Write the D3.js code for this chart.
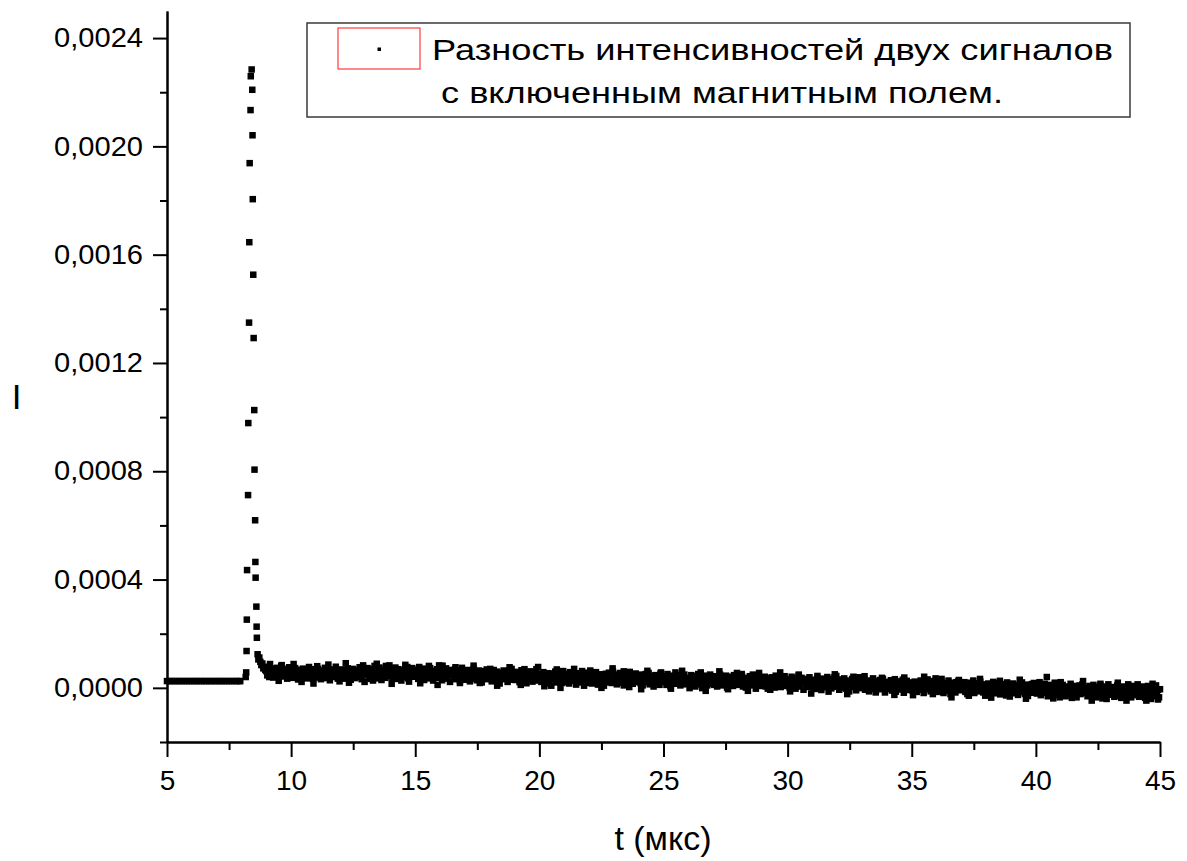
<!DOCTYPE html>
<html>
<head>
<meta charset="utf-8">
<script src="https://cdn.jsdelivr.net/npm/d3@7"></script>
<style>
  body { margin: 0; background: #fff; }
  svg text { font-family: "Liberation Sans", Arial, sans-serif; fill: #000; }
</style>
</head>
<body>
<svg id="chart" width="1187" height="861"></svg>
<script>
// ---- data (I in units of 1e-6) ----
const xMajorTicks = [5, 10, 15, 20, 25, 30, 35, 40, 45];
const xMinorTicks = [7.5, 12.5, 17.5, 22.5, 27.5, 32.5, 37.5, 42.5];
const yMajorTicks = [0, 0.0004, 0.0008, 0.0012, 0.0016, 0.002, 0.0024];
const yMinorTicks = [-0.0002, 0.0002, 0.0006, 0.001, 0.0014, 0.0018, 0.0022];

// flat level before the pulse
const baseT = [5.0, 5.1, 5.2, 5.3, 5.4, 5.5, 5.6, 5.7, 5.8, 5.9, 6.0, 6.1, 6.2, 6.3, 6.4, 6.5,
  6.6, 6.7, 6.8, 6.9, 7.0, 7.1, 7.2, 7.3, 7.4, 7.5, 7.6, 7.7, 7.8, 7.9, 7.95];
const baseI = [25, 25, 25, 25, 25, 25, 25, 25, 25, 25, 25, 25, 25, 25, 25, 25,
  25, 25, 25, 25, 25, 25, 25, 25, 25, 25, 25, 25, 25, 25, 25];

// the pulse
const pulseT = [8.17, 8.19, 8.205, 8.215, 8.225, 8.265, 8.275, 8.305, 8.315, 8.33, 8.365, 8.375,
  8.41, 8.435, 8.445, 8.455, 8.475, 8.49, 8.515, 8.525, 8.55, 8.56, 8.57, 8.60, 8.61, 8.62, 8.65, 8.68];
const pulseI = [40, 57, 136, 252, 435, 712, 978, 1349, 1646, 1938, 2134, 2259,
  2284, 2209, 2041, 1805, 1526, 1292, 1026, 806, 619, 465, 407, 300, 226, 185, 124, 105];

// noisy decay after the pulse, sampled every 0.04 us starting at 8.72 us
const tailT0 = 8.72;
const tailStep = 0.04;
const tailI = [
  112, 96, 84, 90, 72, 78, 66,
  62, 46, 68, 40, 60, 72, 52, 38, 66, 58, 48, 74, 54, 44, 64, 80, 50, 70, 42, 56, 68, 34, 62, 76, 48,
  47, 65, 37, 57, 73, 43, 53, 31, 61, 67, 49, 39, 71, 55, 45, 63, 35, 59, 77, 41, 51, 69, 33, 57, 63,
  54, 38, 70, 46, 60, 32, 64, 52, 42, 74, 36, 58, 50, 66, 28, 56, 68, 44, 62, 40, 78, 48, 34, 60, 52,
  42, 68, 50, 34, 62, 56, 38, 72, 46, 64, 30, 54, 70, 44, 36, 60, 52, 66, 40, 76, 48, 32, 58, 62, 22,
  65, 49, 73, 39, 59, 33, 69, 53, 45, 81, 41, 57, 35, 63, 75, 47, 29, 61, 67, 51, 37, 71, 43, 55, 83,
  47, 67, 37, 61, 51, 75, 33, 57, 69, 43, 53, 27, 65, 59, 39, 71, 49, 77, 35, 63, 45, 55, 73, 41, 61,
  67, 43, 55, 33, 77, 49, 39, 61, 71, 29, 57, 45, 65, 35, 51, 73, 41, 59, 27, 63, 53, 37, 69, 47, 83,
  38, 54, 28, 62, 48, 42, 72, 34, 58, 66, 22, 52, 46, 60, 32, 68, 40, 50, 36, 64, 26, 56, 74, 44, 54,
  56, 30, 48, 66, 38, 24, 60, 52, 34, 70, 42, 46, 28, 58, 64, 36, 50, 20, 54, 44, 62, 32, 68, 40, 56,
  40, 58, 24, 50, 66, 34, 44, 60, 28, 52, 16, 56, 38, 46, 64, 32, 54, 42, 22, 62, 48, 30, 70, 36, 44,
  49, 29, 59, 37, 43, 21, 53, 65, 33, 25, 47, 55, 17, 41, 51, 31, 61, 39, 23, 45, 57, 27, 69, 35, 51,
  30, 50, 22, 42, 58, 36, 16, 48, 38, 54, 26, 44, 8, 52, 40, 32, 60, 20, 46, 28, 56, 34, 50, 18, 62,
  42, 22, 52, 34, 46, 16, 58, 36, 26, 50, 30, 40, 12, 54, 44, 20, 48, 32, 62, 24, 38, 56, 18, 42, 28,
  46, 28, 54, 16, 36, 42, 22, 58, 32, 12, 48, 34, 50, 24, 40, 8, 44, 52, 30, 20, 56, 26, 38, 18, 62,
  23, 37, 49, 13, 41, 29, 55, 19, 33, 45, 9, 51, 27, 43, 17, 35, 59, 25, 47, 15, 39, 31, 53, 21, 41,
  33, 49, 17, 37, 9, 43, 27, 51, 21, 31, 55, 13, 39, 25, 45, 5, 35, 47, 19, 41, 29, 11, 53, 23, 37,
  43, 21, 33, 11, 51, 27, 39, 5, 45, 29, 17, 37, 57, 15, 31, 47, 23, 9, 41, 33, 19, 49, 13, 35, 25,
  21, 37, 11, 47, 29, 17, 43, 5, 33, 25, 51, 13, 39, 27, -1, 35, 45, 19, 31, 9, 41, 23, 49, 15, 37,
  33, 11, 43, 21, 5, 37, 27, 49, 15, 31, 9, 39, 19, 45, 1, 25, 35, 13, 41, 23, 7, 47, 29, 17, 55,
  11, 27, 39, 15, 45, 5, 33, 23, 1, 37, 29, 19, 43, 9, 25, 49, 13, 31, -3, 35, 21, 41, 7, 29, 17,
  31, 15, 41, 5, 25, -3, 35, 21, 11, 39, 19, 29, 1, 45, 9, 23, 37, 13, 3, 33, 27, 17, 43, 7, 29,
  15, 31, 1, 25, 41, 9, 19, 35, -3, 27, 13, 45, 5, 23, 37, 17, -7, 29, 33, 11, 21, 3, 39, 7, 25,
  24, 0, 30, 14, -4, 36, 20, 6, 28, -8, 16, 34, 10, 26, 2, 40, 8, 18, 32, -2, 22, 12, 38, 4, 44,
  5, 23, -7, 17, 31, 1, 13, 35, 9, -3, 27, 19, -13, 25, 11, 33, 3, 15, 29, -9, 21, 7, 39, -1, 17,
  23, 7, 31, -7, 17, 3, 27, -13, 13, 21, -3, 35, 9, 19, -9, 25, 11, 1, 29, -5, 15, 33, 5, -17, 21,
  2, 22, -4, 10, 28, -10, 16, 6, 32, -14, 18, 12, -6, 24, 0, 8, 30, -18, 14, -2, 26, 10, -8, 20, 4,
  15, -11, 9, 23, -3, -15, 19, 5, -7, 27, 1, 13, -19, 21, 7, -5, 31, -1, 17, -13, 11, 3, 25, -9, 35,
  1, 15, -15, 9, -7, 23, 3, -19, 17, -3, 11, -11, 27, 5, -23, 13, 19, -5, 7, -17, 21, -1, 25, -9, 9,
  15, -7, 3, 21, -15, 7, -23, 11, -1, 19, -11, 5, 27, -19, 9, -5, 17, 1, -13, 23, -9, 13, -17, 3, -29,
  6, -16, 16, -6, -22, 10, 0, 22, -12, 4, -20, 12, -8, 18, -24, -2, 8, -14, 14, -4, -28, 20, 2, -10, 10,
  -14, 2, 16, -20, -2, -10, 10, -26, 6, -4, -16, 20, -8, 4, -22, 12, -6, -30, 8, 0, -12, 14, -18, 18, 2,
  -3, -21, 9, -15, -5, -27, 3, -7, -19, 15, -11, 40, -31, 7, -9, 11, -23, -1, -17, 19, -25, -5, 5, -13, -35,
  1, -15, 11, -25, -7, -31, 5, -11, -1, -21, 15, -17, -9, 7, -27, -3, -35, 3, -13, 9, -23, -5, 13, -19, -1,
  -15, 1, -31, -5, 7, -21, -11, -27, 11, -17, -3, -35, 3, -9, -23, 9, -13, -39, -1, -7, -29, 5, -19, 13, -25,
  -5, -25, 3, -19, -33, -1, -11, 9, -29, -7, -15, -37, 5, -13, -23, 1, -31, -9, 13, -21, -3, -35, 7, -17, -27,
  -9, -25, 3, -19, -33, -3, -15, 5, -29, -11, -37, -1, -21, 7, -27, -13, -41, -5, 1, -23, -17, 9, -31, -7, -35, -5
];

// scattered samples sticking out of the noise band
const spreadT = [
  9.15, 9.5, 9.62, 10.1, 10.42, 10.9, 11.05, 11.5, 11.95, 12.2, 12.33, 12.9, 13.3, 13.45,
  13.82, 14.05, 14.6, 14.75, 15.2, 15.55, 15.9, 16.1, 16.62, 16.8, 17.35, 17.6, 18.02, 18.3,
  18.8, 19.25, 19.4, 19.95, 20.2, 20.7, 20.85, 21.4, 21.8, 22.05, 22.5, 22.95, 23.4, 23.62,
  24.1, 24.35, 24.9, 25.3, 25.75, 26.05, 26.5, 26.7, 27.25, 27.6, 28.15, 28.4, 28.85, 29.3,
  29.7, 30.1, 30.45, 30.95, 31.2, 31.65, 31.9, 32.4, 32.65, 33.1, 33.55, 33.8, 34.3, 34.7,
  35.05, 35.5, 35.85, 36.2, 36.6, 36.9, 37.3, 37.75, 38.2, 38.55, 38.95, 39.35, 39.6, 40.15,
  40.7, 41.0, 41.45, 41.9, 42.25, 42.6, 42.85, 43.3, 43.65, 44.1, 44.45, 44.7, 44.92
];
const spreadI = [
  88, 26, 84, 88, 22, 16, 80, 86, 24, 91, 19, 83, 27, 89,
  81, 15, 85, 23, 17, 81, 11, 82, 76, 18, 82, 18, 70, 8,
  76, 11, 69, 77, 6, 68, 0, 70, 8, 64, 0, 72, 61, 3,
  -5, 63, 57, -3, 63, -1, 57, -11, 61, -5, 51, -11, 55, -7,
  57, -13, 49, -21, 44, -14, 50, -23, 41, 43, -17, 37, -26, 38,
  -27, 41, -23, 33, -35, 29, -29, 33, -36, 26, -32, 30, -40, 21,
  -39, 21, -37, 25, -47, 15, -41, 19, -47, 13, -47, 15, -43
];

const legendLines = ["Разность интенсивностей двух сигналов", "с включенным магнитным полем."];
const xTitle = "t (мкс)";
const yTitle = "I";

// ---- assemble points ----
const MICRO = 1e-6;
const points = [];
baseT.forEach((t, i) => points.push({ t, v: baseI[i] * MICRO }));
pulseT.forEach((t, i) => points.push({ t, v: pulseI[i] * MICRO }));
tailI.forEach((v, i) => points.push({ t: tailT0 + i * tailStep, v: v * MICRO }));
spreadT.forEach((t, i) => points.push({ t, v: spreadI[i] * MICRO }));

// ---- layout ----
const svg = d3.select("#chart");
const x = d3.scaleLinear().domain([5, 45]).range([167, 1160]);
const y = d3.scaleLinear().domain([-0.0002, 0.0025]).range([742, 11]);
const fmtY = d => d3.format(".4f")(d).replace(".", ",");

// markers
const ms = 6.5;
svg.append("g")
  .selectAll("rect")
  .data(points)
  .join("rect")
  .attr("x", d => x(d.t) - ms / 2)
  .attr("y", d => y(d.v) - ms / 2)
  .attr("width", ms)
  .attr("height", ms)
  .attr("fill", "#000");

// axes
function styleAxis(g) {
  g.selectAll("path.domain").attr("stroke", "#000").attr("stroke-width", 2);
  g.selectAll(".tick line").attr("stroke", "#000").attr("stroke-width", 2);
}

const yAxisMinor = svg.append("g").attr("transform", "translate(167,0)")
  .call(d3.axisLeft(y).tickValues(yMinorTicks).tickSize(7).tickSizeOuter(0).tickFormat(""));
styleAxis(yAxisMinor);

const yAxis = svg.append("g").attr("transform", "translate(167,0)")
  .call(d3.axisLeft(y).tickValues(yMajorTicks).tickSize(14).tickSizeOuter(0).tickPadding(10).tickFormat(fmtY));
styleAxis(yAxis);
yAxis.selectAll("text")
  .attr("font-size", 27)
  .attr("textLength", 89)
  .attr("lengthAdjust", "spacingAndGlyphs");

const xAxisMinor = svg.append("g").attr("transform", "translate(0,742)")
  .call(d3.axisBottom(x).tickValues(xMinorTicks).tickSize(8).tickSizeOuter(0).tickFormat(""));
styleAxis(xAxisMinor);

const xAxis = svg.append("g").attr("transform", "translate(0,742)")
  .call(d3.axisBottom(x).tickValues(xMajorTicks).tickSize(15).tickSizeOuter(0).tickPadding(13).tickFormat(d3.format("d")));
styleAxis(xAxis);
xAxis.selectAll("text").attr("font-size", 28);

// axis titles
svg.append("text")
  .attr("x", 663).attr("y", 850)
  .attr("text-anchor", "middle")
  .attr("font-size", 34)
  .text(xTitle);

svg.append("text")
  .attr("x", 16.5).attr("y", 409)
  .attr("text-anchor", "middle")
  .attr("font-size", 35)
  .text(yTitle);

// legend
const lg = svg.append("g");
lg.append("rect")
  .attr("x", 307).attr("y", 23).attr("width", 823).attr("height", 94)
  .attr("fill", "#fff").attr("stroke", "#3a3a3a").attr("stroke-width", 1.5);
lg.append("rect")
  .attr("x", 338).attr("y", 28).attr("width", 82).attr("height", 41)
  .attr("fill", "none").attr("stroke", "#ff3b3b").attr("stroke-width", 1.2);
lg.append("rect")
  .attr("x", 377.5).attr("y", 47.5).attr("width", 3.5).attr("height", 3.5)
  .attr("fill", "#000");
lg.append("text")
  .attr("x", 432).attr("y", 60)
  .attr("font-size", 30)
  .attr("textLength", 681).attr("lengthAdjust", "spacingAndGlyphs")
  .text(legendLines[0]);
lg.append("text")
  .attr("x", 441).attr("y", 103)
  .attr("font-size", 30)
  .attr("textLength", 562).attr("lengthAdjust", "spacingAndGlyphs")
  .text(legendLines[1]);
</script>
</body>
</html>
